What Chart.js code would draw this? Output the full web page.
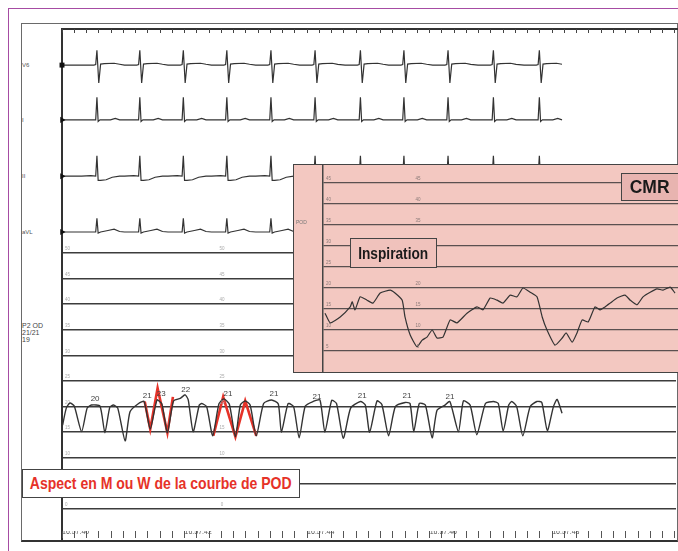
<!DOCTYPE html>
<html lang="fr">
<head>
<meta charset="utf-8">
<title>Courbe de POD - aspect en M ou W</title>
<script src="https://cdn.jsdelivr.net/npm/chart.js@4.4.1/dist/chart.umd.min.js"></script>
<style>
    html, body { margin: 0; padding: 0; }
    body {
        width: 678px; height: 551px; position: relative; overflow: hidden; background: #fff;
        font-family: 'Liberation Sans', Arial, sans-serif;
    }
    .abs { position: absolute; }
    #purpleFrame { left: 8px; top: 8px; width: 720px; height: 600px; border: 1.5px solid #a64ca3; }
    #recFrame { left: 21px; top: 23px; width: 657px; height: 519px; box-sizing: border-box; border: 1.5px solid #6a6a6a; border-bottom: 2.5px solid #333; }
    #topRuler { left: 62px; top: 28px; width: 616px; height: 2px; background: #333; }
    #leftAxis { left: 61px; top: 28px; width: 1.5px; height: 512px; background: #333; }
    .lead { left: 22px; font-size: 6px; color: #555; }
    #podTag { left: 22px; top: 322px; font-size: 7px; line-height: 7px; color: #444; }
    #mainBox { left: 21px; top: 23px; width: 655px; height: 518px; }
    #cmrBox { left: 293px; top: 164px; width: 385px; height: 209px; background: #f3c8c1; }
    #cmrBorder { left: 293px; top: 164px; width: 387px; height: 209px; box-sizing: border-box; border: 1.5px solid #444; }
    #cmrTag { left: 296px; top: 219px; font-size: 5px; color: #777; }
    .box { display: flex; align-items: center; justify-content: center; box-sizing: border-box; border: 1.5px solid #444; font-weight: bold; white-space: nowrap; }
    .box span { display: inline-block; transform-origin: center; }
    #cmrLabel { left: 621px; top: 173px; width: 60px; height: 28px; background: #e8b4b0; font-size: 19px; color: #1a1a1a; padding-right: 3px; }
    #cmrLabel span { transform: scaleX(0.92); }
    #inspLabel { left: 350px; top: 238px; width: 87px; height: 30px; background: #f0c2bc; font-size: 16.5px; color: #1a1a1a; }
    #inspLabel span { transform: scaleX(0.83); }
    #aspectLabel { left: 22px; top: 469px; width: 278px; height: 29px; background: #fff; font-size: 17px; color: #e63228; }
    #aspectLabel span { transform: scaleX(0.825); }
</style>
</head>
<body>
<div id="purpleFrame" class="abs"></div>
<div id="recFrame" class="abs"></div>
<div id="topRuler" class="abs"></div>
<div id="leftAxis" class="abs"></div>
<div class="abs lead" style="top:62px">V6</div>
<div class="abs lead" style="top:117px">I</div>
<div class="abs lead" style="top:173px">II</div>
<div class="abs lead" style="top:229px">aVL</div>
<div id="podTag" class="abs">P2 OD<br>21/21<br>19</div>

<div id="mainBox" class="abs"><canvas id="mainChart"></canvas></div>

<div id="cmrBox" class="abs"><canvas id="cmrChart"></canvas></div>
<div id="cmrTag" class="abs">POD</div>
<div id="cmrBorder" class="abs"></div>
<div id="cmrLabel" class="abs box"><span>CMR</span></div>
<div id="inspLabel" class="abs box"><span>Inspiration</span></div>
<div id="aspectLabel" class="abs box"><span>Aspect en M ou W de la courbe de POD</span></div>

<script>
// --- Data (time in s from 16:57:40, pressure in mmHg, ECG in mV) ---
const timeLabels = ['16:57:40', '16:57:42', '16:57:44', '16:57:46', '16:57:48'];
const timeLabelSeconds = [0, 2, 4, 6, 8];
const podTicks = [0, 5, 10, 15, 20, 25, 30, 35, 40, 45, 50];
const cmrTicks = [5, 10, 15, 20, 25, 30, 35, 40, 45];

const leadNames = ['V6', 'I', 'II', 'aVL'];
const beatTimes = [0.57, 1.27, 1.98, 2.69, 3.41, 4.13, 4.87, 5.58, 6.30, 7.04, 7.79];

// one beat per lead: offset from the R wave (s) and amplitude (mV)
const v6Offsets = [-0.25, -0.05, -0.02, 0.0, 0.03, 0.06, 0.12, 0.28, 0.37];
const v6Values  = [0.00, 0.00, 0.05, 1.45, -1.75, 0.10, 0.15, 0.18, 0.08];
const iOffsets  = [-0.25, -0.02, 0.0, 0.02, 0.05, 0.22, 0.30, 0.37];
const iValues   = [0.00, 0.00, 2.20, -0.15, 0.00, 0.00, 0.15, 0.00];
const iiOffsets = [-0.25, -0.10, -0.02, 0.0, 0.02, 0.06, 0.15, 0.25, 0.37];
const iiValues  = [0.10, 0.15, 0.10, 2.10, -0.30, -0.30, -0.25, 0.00, 0.10];
const avlOffsets = [-0.25, -0.02, 0.0, 0.02, 0.06, 0.18, 0.28, 0.37];
const avlValues  = [0.00, 0.00, 1.35, -0.10, 0.00, 0.15, 0.28, 0.05];

const podTimes = [0.01,0.07,0.13,0.20,0.32,0.41,0.48,0.62,0.70,0.78,
    0.84,0.91,1.03,1.11,1.25,1.34,1.44,1.55,1.63,1.72,
    1.82,1.93,2.01,2.06,2.14,2.24,2.28,2.36,2.46,2.56,
    2.64,2.73,2.83,2.91,2.99,3.07,3.17,3.29,3.42,3.53,
    3.58,3.69,3.78,3.87,3.97,4.10,4.21,4.29,4.40,4.48,
    4.59,4.71,4.87,4.95,5.02,5.14,5.22,5.33,5.44,5.60,
    5.68,5.74,5.83,5.93,6.04,6.12,6.25,6.33,6.47,6.55,
    6.66,6.77,6.91,7.04,7.12,7.20,7.29,7.34,7.42,7.52,
    7.64,7.75,7.83,7.92,8.02,8.08,8.16];
const podPressure = [16.4,19.7,20.7,20.1,15.1,19.7,20.3,20.1,14.9,19.9,
    20.3,19.7,13.3,19.0,20.6,21.0,15.6,21.3,20.5,14.9,
    21.1,21.6,22.3,21.3,15.1,20.3,20.6,20.0,14.3,20.5,
    21.5,20.5,14.1,20.3,21.1,20.3,14.3,20.6,21.3,20.5,
    15.0,20.6,20.0,13.9,20.1,21.0,21.3,15.0,21.2,20.6,
    13.8,19.7,21.0,20.3,15.0,21.1,20.4,14.3,20.0,20.8,
    20.6,15.1,20.6,20.3,13.9,19.3,20.3,21.0,15.1,21.1,
    20.3,14.5,20.6,21.0,20.6,15.2,20.3,21.0,20.0,14.3,
    20.0,21.0,20.8,15.3,20.0,21.4,18.7];

// red M and W drawn over the curve
const mTimes = [1.35, 1.44, 1.56, 1.72, 1.81];
const mPressure = [21.0, 15.6, 23.6, 14.9, 21.9];
const wTimes = [2.47, 2.63, 2.83, 2.99, 3.17];
const wPressure = [14.3, 21.9, 14.1, 21.1, 14.3];

// numbers printed above the peaks
const peakLabels = ['20', '21', '23', '22', '21', '21', '21', '21', '21', '21'];
const peakLabelTimes = [0.54, 1.39, 1.62, 2.02, 2.71, 3.46, 4.16, 4.90, 5.63, 6.33];
const peakLabelPressure = [21.5, 22.1, 22.5, 23.2, 22.5, 22.5, 21.9, 22.1, 22.1, 21.9];

// CMR inset (inspiration)
const cmrTimes = [0.05,0.18,0.43,0.68,0.73,0.80,0.93,1.10,1.25,1.43,
    1.68,1.80,1.98,2.05,2.18,2.35,2.48,2.60,2.73,2.85,
    3.00,3.18,3.35,3.60,3.85,4.00,4.18,4.35,4.50,4.68,
    4.85,5.00,5.18,5.35,5.48,5.60,5.80,5.98,6.08,6.23,
    6.35,6.48,6.63,6.80,6.93,7.05,7.18,7.35,7.55,7.68,
    7.85,8.00,8.18,8.35,8.50,8.68,8.80];
const cmrPressure = [14.0,11.7,13.1,15.5,16.7,14.8,17.9,17.1,16.4,18.8,
    19.5,18.8,17.1,13.1,8.8,6.0,7.6,8.3,10.0,8.1,
    8.3,12.4,11.7,14.0,15.5,14.8,17.6,17.1,16.4,18.3,
    17.9,20.0,19.0,17.9,13.1,10.0,6.4,8.1,9.3,7.1,
    9.3,12.4,11.9,15.5,14.8,15.5,16.4,17.6,18.3,17.1,
    16.0,17.9,19.0,19.8,19.5,20.2,18.8];

// --- Layout (where each ECG lead sits on the pressure axis) ---
const leadBase = [86.7, 76.0, 64.8, 54.1];
const ECG_GAIN = 2;       // axis units per mV
const ECG_END = 8.16;
const MARK_COL = 2.61;    // second column of scale numbers (s)
const CMR_MARK_COL = 2.375;
const TRACE = '#333';
const FONT = "'Liberation Sans', Arial, sans-serif";

function buildLead(offsets, values, base) {
    const pts = [{ x: 0, y: base + values[0] * ECG_GAIN }];
    beatTimes.forEach(b => {
        offsets.forEach((dt, i) => pts.push({ x: b + dt, y: base + values[i] * ECG_GAIN }));
    });
    pts.push({ x: ECG_END, y: base + values[values.length - 1] * ECG_GAIN });
    return pts;
}

function zip(xs, ys) {
    return xs.map((x, i) => ({ x: x, y: ys[i] }));
}

// axes without the extra room Chart.js keeps for their end labels
function flatAxis(s) {
    s.width = 0;
    s.paddingTop = 0;
    s.paddingBottom = 0;
}
function rulerAxis(h) {
    return s => {
        s.height = h;
        s.paddingLeft = 0;
        s.paddingRight = 0;
    };
}

const leadShapes = [[v6Offsets, v6Values], [iOffsets, iValues], [iiOffsets, iiValues], [avlOffsets, avlValues]];

const ecgDatasets = leadNames.map((name, k) => ({
    label: name,
    data: buildLead(leadShapes[k][0], leadShapes[k][1], leadBase[k]),
    borderColor: TRACE,
    borderWidth: 1.2,
    tension: 0,
    clip: false,
    pointRadius: ctx => ctx.dataIndex === 0 ? 3.5 : 0,
    pointStyle: k === 0 ? 'rect' : 'triangle',
    rotation: 90,
    pointBackgroundColor: '#111',
    pointBorderWidth: 0
}));

// --- Plugins: numbers over the curve ---
const peakTextPlugin = {
    id: 'peakText',
    afterDatasetsDraw(chart) {
        const { ctx, scales: { x, y } } = chart;
        ctx.save();
        ctx.textAlign = 'center';
        ctx.textBaseline = 'middle';
        ctx.font = '8px ' + FONT;
        ctx.fillStyle = '#444';
        peakLabels.forEach((txt, i) => {
            ctx.fillText(txt, x.getPixelForValue(peakLabelTimes[i]), y.getPixelForValue(peakLabelPressure[i]));
        });
        ctx.font = '4.5px ' + FONT;
        ctx.fillStyle = '#aaa';
        podTicks.forEach(v => ctx.fillText(String(v), x.getPixelForValue(MARK_COL), y.getPixelForValue(v) - 4));
        ctx.restore();
    }
};

const cmrMarksPlugin = {
    id: 'cmrMarks',
    afterDatasetsDraw(chart) {
        const { ctx, scales: { x, y } } = chart;
        ctx.save();
        ctx.textAlign = 'center';
        ctx.textBaseline = 'middle';
        ctx.font = '4.5px ' + FONT;
        ctx.fillStyle = '#8a7a78';
        cmrTicks.forEach(v => ctx.fillText(String(v), x.getPixelForValue(CMR_MARK_COL), y.getPixelForValue(v) - 4));
        ctx.restore();
    }
};

// --- Main recording ---
new Chart(document.getElementById('mainChart'), {
    type: 'line',
    data: {
        datasets: [
            ...ecgDatasets,
            { label: 'POD', data: zip(podTimes, podPressure), borderColor: TRACE, borderWidth: 1.4, tension: 0.2, pointRadius: 0 },
            { label: 'M', data: zip(mTimes, mPressure), borderColor: '#e63228', borderWidth: 2.6, tension: 0, pointRadius: 0 },
            { label: 'W', data: zip(wTimes, wPressure), borderColor: '#e63228', borderWidth: 2.6, tension: 0, pointRadius: 0 }
        ]
    },
    options: {
        responsive: true,
        maintainAspectRatio: false,
        animation: false,
        parsing: false,
        layout: { autoPadding: false, padding: { left: 41, right: 0, top: 6, bottom: 3 } },
        plugins: { legend: { display: false }, tooltip: { enabled: false } },
        scales: {
            x: {
                type: 'linear', position: 'bottom', min: 0, max: 10.02,
                afterFit: rulerAxis(7),
                border: { display: false },
                grid: { drawOnChartArea: false, tickLength: 7, color: '#555', tickWidth: 1 },
                ticks: {
                    stepSize: 0.2, autoSkip: false, maxRotation: 0, includeBounds: false,
                    align: 'start', padding: -10, color: '#555',
                    font: { family: FONT, size: 7 },
                    callback: v => {
                        const i = timeLabelSeconds.findIndex(s => Math.abs(s - v) < 1e-6);
                        return i >= 0 ? timeLabels[i] : '';
                    }
                }
            },
            xTop: {
                type: 'linear', position: 'top', min: 0, max: 10.02,
                afterFit: rulerAxis(4),
                border: { display: false },
                grid: { drawOnChartArea: false, tickLength: 4, color: '#444', tickWidth: 1 },
                ticks: { stepSize: 0.2, includeBounds: false, display: false }
            },
            y: {
                type: 'linear', position: 'left', min: -4.3, max: 92.97,
                afterBuildTicks: s => { s.ticks = podTicks.map(v => ({ value: v })); },
                afterFit: flatAxis,
                border: { display: true, color: '#333', width: 1.5 },
                grid: { color: '#3c3c3c', lineWidth: 1.5, drawTicks: false },
                ticks: { mirror: true, padding: 3, labelOffset: -4, color: '#aaa', font: { family: FONT, size: 4.5 } }
            }
        }
    },
    plugins: [peakTextPlugin]
});

// --- CMR inset ---
new Chart(document.getElementById('cmrChart'), {
    type: 'line',
    data: {
        datasets: [
            { label: 'CMR', data: zip(cmrTimes, cmrPressure), borderColor: TRACE, borderWidth: 1.2, tension: 0.15, pointRadius: 0 }
        ]
    },
    options: {
        responsive: true,
        maintainAspectRatio: false,
        animation: false,
        parsing: false,
        layout: { autoPadding: false, padding: { left: 30, right: 0, top: 0, bottom: 0 } },
        plugins: { legend: { display: false }, tooltip: { enabled: false } },
        scales: {
            x: { type: 'linear', display: false, min: 0, max: 8.875 },
            y: {
                type: 'linear', position: 'left', min: -0.24, max: 49.52,
                afterBuildTicks: s => { s.ticks = cmrTicks.map(v => ({ value: v })); },
                afterFit: flatAxis,
                border: { display: true, color: '#444', width: 1.5 },
                grid: { color: '#5a5050', lineWidth: 1.3, drawTicks: false },
                ticks: { mirror: true, padding: 3, labelOffset: -4, color: '#8a7a78', font: { family: FONT, size: 4.5 } }
            }
        }
    },
    plugins: [cmrMarksPlugin]
});
</script>
</body>
</html>
